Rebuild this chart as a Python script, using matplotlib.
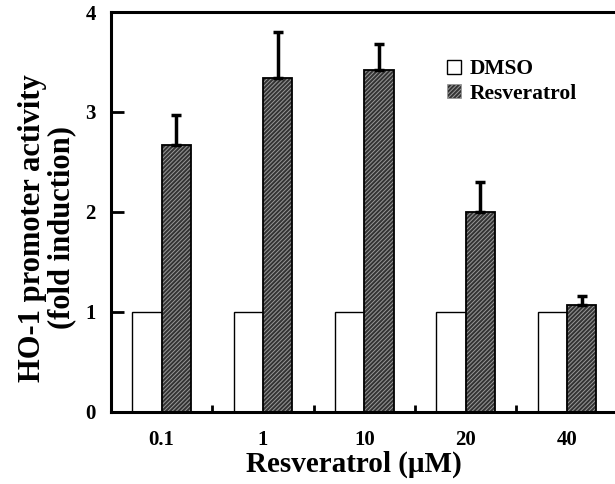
import matplotlib
matplotlib.use("Agg")
import matplotlib.pyplot as plt
import numpy as np
from matplotlib.patches import Patch

categories = ["0.1", "1", "10", "20", "40"]
dmso = [1.0, 1.0, 1.0, 1.0, 1.0]
resveratrol = [2.67, 3.34, 3.42, 2.00, 1.07]
resveratrol_err = [0.30, 0.46, 0.26, 0.30, 0.09]
yticks = [0, 1, 2, 3, 4]

plt.rcParams['font.family'] = ['Liberation Serif', 'DejaVu Serif']
plt.rcParams['font.weight'] = 'bold'
plt.rcParams['hatch.linewidth'] = 0.7

XMAX = 5.1
AXW = 0.824 * XMAX / 5
fig = plt.figure(figsize=(6.15, 4.84), dpi=100)
ax = fig.add_axes([0.1805, 0.1488, AXW, 0.8264])

x = np.arange(len(categories)) + 0.5
w = 0.29
hfc = '#333333'
hec = '#9a9a9a'

ax.bar(x - w/2, dmso, width=w, facecolor='white', edgecolor='black', linewidth=1.0, zorder=2)
ax.bar(x + w/2, resveratrol, width=w, facecolor=hfc, edgecolor=hec, hatch='////////', linewidth=0, zorder=2)
ax.bar(x + w/2, resveratrol, width=w, facecolor='none', edgecolor='black', linewidth=1.3, zorder=3)
ax.errorbar(x + w/2, resveratrol, yerr=[np.zeros(len(resveratrol)), resveratrol_err], fmt='none',
            ecolor='black', elinewidth=2.5, capsize=3.6, capthick=2.5, zorder=4)

h1 = Patch(facecolor='white', edgecolor='black', linewidth=1.0, label='DMSO')
h2 = Patch(facecolor=hfc, edgecolor=hec, hatch='////////', linewidth=0.5, label='Resveratrol')
pxw = AXW * 615
leg = ax.legend(handles=[h1, h2], loc='center left', bbox_to_anchor=((447 - 111) / pxw, 0.826), frameon=False,
                prop={'family': 'Liberation Serif', 'weight': 'bold', 'size': 15.5},
                handlelength=0.65, handleheight=0.65, handletextpad=0.4, labelspacing=0.2,
                borderpad=0, borderaxespad=0)

ax.set_xlim(0, XMAX)
ax.set_ylim(0, 4)
ax.set_yticks(yticks)
ax.set_yticklabels([str(t) for t in yticks], fontsize=15, fontweight='bold')
ax.set_xticks([1, 2, 3, 4])
ax.set_xticklabels([])
ax.set_xticks(x, minor=True)
ax.set_xticklabels(categories, minor=True, fontsize=15, fontweight='bold')
ax.tick_params(axis='x', which='major', direction='in', length=5, width=2)
ax.tick_params(axis='x', which='minor', length=0, pad=13)
ax.tick_params(axis='y', direction='in', length=9, width=2, pad=11)

for s in ax.spines.values():
    s.set_linewidth(2.2)
ax.spines['right'].set_visible(False)

ax.set_xlabel('Resveratrol (μM)', fontsize=21, fontweight='bold')
ax.xaxis.set_label_coords((354 - 111) / pxw, -(464 - 412) / (0.8264 * 484))
ax.set_ylabel('HO-1 promoter activity\n(fold induction)', fontsize=22, fontweight='bold', linespacing=1.0)
ax.yaxis.set_label_coords(-(111 - 47) / pxw, (412 - 228) / (0.8264 * 484))
ax.xaxis.label.set_va('center')
ax.yaxis.label.set_va('center')

fig.savefig('out.png', dpi=100)
